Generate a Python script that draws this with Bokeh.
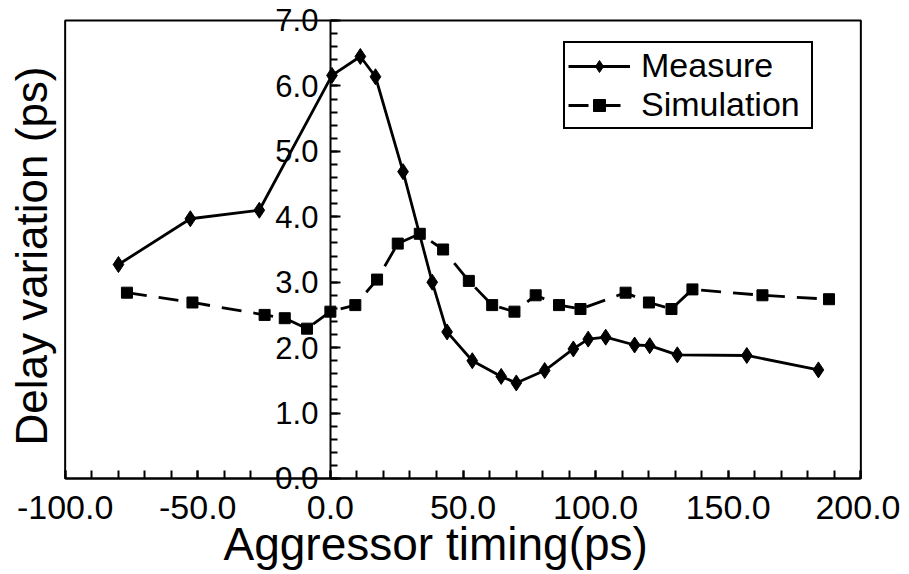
import numpy as np
from bokeh.plotting import figure
from bokeh.models import (SingleIntervalTicker, NumeralTickFormatter, Legend, LegendItem, Title,
                          BoxAnnotation, Range1d, LinearAxis)
from bokeh.embed import file_html
from bokeh.resources import INLINE

# Measured delay variation (diamonds, solid line)
meas_x = [-79.9, -52.8, -26.8, 0.6, 11.3, 17.0, 27.4, 38.4, 44.0, 53.5, 64.4, 70.1,
          80.8, 91.6, 97.2, 103.8, 114.7, 120.4, 130.8, 157.0, 184.0]
meas_y = [3.27, 3.97, 4.10, 6.16, 6.45, 6.14, 4.69, 3.00, 2.24, 1.80, 1.56, 1.46,
          1.65, 1.98, 2.13, 2.16, 2.04, 2.03, 1.89, 1.88, 1.66]

# Simulated delay variation (squares, dashed line)
sim_x = [-76.7, -52.0, -24.8, -17.2, -8.8, 0.0, 9.4, 17.6, 25.4, 33.7, 42.5, 52.2,
         61.0, 69.4, 77.4, 86.2, 94.3, 111.3, 120.1, 128.6, 136.5, 162.9, 188.0]
sim_y = [2.84, 2.69, 2.50, 2.45, 2.29, 2.55, 2.65, 3.04, 3.59, 3.74, 3.50, 3.02,
         2.65, 2.55, 2.80, 2.65, 2.59, 2.84, 2.69, 2.59, 2.89, 2.80, 2.74]

# axis limits of the plotted box
X_MIN, X_MAX = -100, 200
Y_MIN, Y_MAX = 0, 7

FONT = "Liberation Sans"

# ranges padded a little so that the box edges and the "7.0"/"0.0" labels are not clipped
p = figure(width=900, height=574,
           x_range=Range1d(X_MIN - 1, X_MAX + 1),
           y_range=Range1d(Y_MIN - 0.26, Y_MAX + 0.275),
           output_backend="svg", toolbar_location=None,
           min_border_left=62, min_border_right=37, min_border_top=2, min_border_bottom=79)
p.grid.visible = False
p.outline_line_color = None

# plot box
p.add_layout(BoxAnnotation(left=X_MIN, right=X_MAX, bottom=Y_MIN, top=Y_MAX,
                           fill_color=None, fill_alpha=0, line_color="black",
                           line_width=2, line_alpha=1.0))

# x tick labels (below the box)
xa = p.xaxis[0]
xa.bounds = (X_MIN, X_MAX)
xa.ticker = SingleIntervalTicker(interval=50, num_minor_ticks=5)
xa.formatter = NumeralTickFormatter(format="0.0")
xa.axis_line_color = None
xa.major_tick_in = 0
xa.major_tick_out = 0
xa.minor_tick_in = 0
xa.minor_tick_out = 0
xa.major_label_text_font = FONT
xa.major_label_text_font_size = "34px"
xa.major_label_text_color = "black"
xa.major_label_standoff = 0

p.add_layout(Title(text="Aggressor timing(ps)", align="left", offset=161, standoff=-12,
                   vertical_align="bottom",
                   text_font=FONT, text_font_size="46px", text_font_style="normal",
                   text_color="black"), "below")

# x axis line and ticks along y = 0
xline = LinearAxis(fixed_location=Y_MIN, bounds=(X_MIN, X_MAX),
                   ticker=SingleIntervalTicker(interval=50, num_minor_ticks=5),
                   major_tick_in=8, major_tick_out=0, minor_tick_in=8, minor_tick_out=0,
                   axis_line_width=2, major_tick_line_width=2, minor_tick_line_width=2,
                   major_label_text_alpha=0)
p.add_layout(xline, "below")

# y axis drawn at x = 0
ya = p.yaxis[0]
ya.fixed_location = 0
ya.bounds = (Y_MIN, Y_MAX)
ya.ticker = SingleIntervalTicker(interval=1, num_minor_ticks=5)
ya.formatter = NumeralTickFormatter(format="0.0")
ya.major_tick_in = 10
ya.major_tick_out = 0
ya.minor_tick_in = 7
ya.minor_tick_out = 0
ya.axis_line_width = 2
ya.major_tick_line_width = 2
ya.minor_tick_line_width = 2
ya.major_label_text_font = FONT
ya.major_label_text_font_size = "31px"
ya.major_label_text_color = "black"
ya.major_label_standoff = 12

p.add_layout(Title(text="Delay variation (ps)", align="left", offset=50, standoff=11,
                   vertical_align="middle",
                   text_font=FONT, text_font_size="44px", text_font_style="normal",
                   text_color="black"), "left")

l1 = p.line(meas_x, meas_y, line_color="black", line_width=2.8)
s1 = p.scatter(meas_x, meas_y, marker="diamond", size=16,
               fill_color="black", line_color="black")
l2 = p.line(sim_x, sim_y, line_color="black", line_width=2.8, line_dash="20 12")
s2 = p.scatter(sim_x, sim_y, marker="square", size=11, fill_color="black", line_color="black")

legend = Legend(items=[LegendItem(label="Measure", renderers=[l1, s1]),
                       LegendItem(label="Simulation", renderers=[l2, s2])],
                location=(501, 366), margin=0, padding=3, spacing=0,
                glyph_width=62, glyph_height=30, label_standoff=11, label_width=167,
                label_text_font=FONT, label_text_font_size="34px", label_text_color="black",
                border_line_color="black", border_line_width=2, border_line_alpha=1.0,
                background_fill_alpha=1.0)
p.add_layout(legend)

open("out.html", "w").write(file_html(p, INLINE))
